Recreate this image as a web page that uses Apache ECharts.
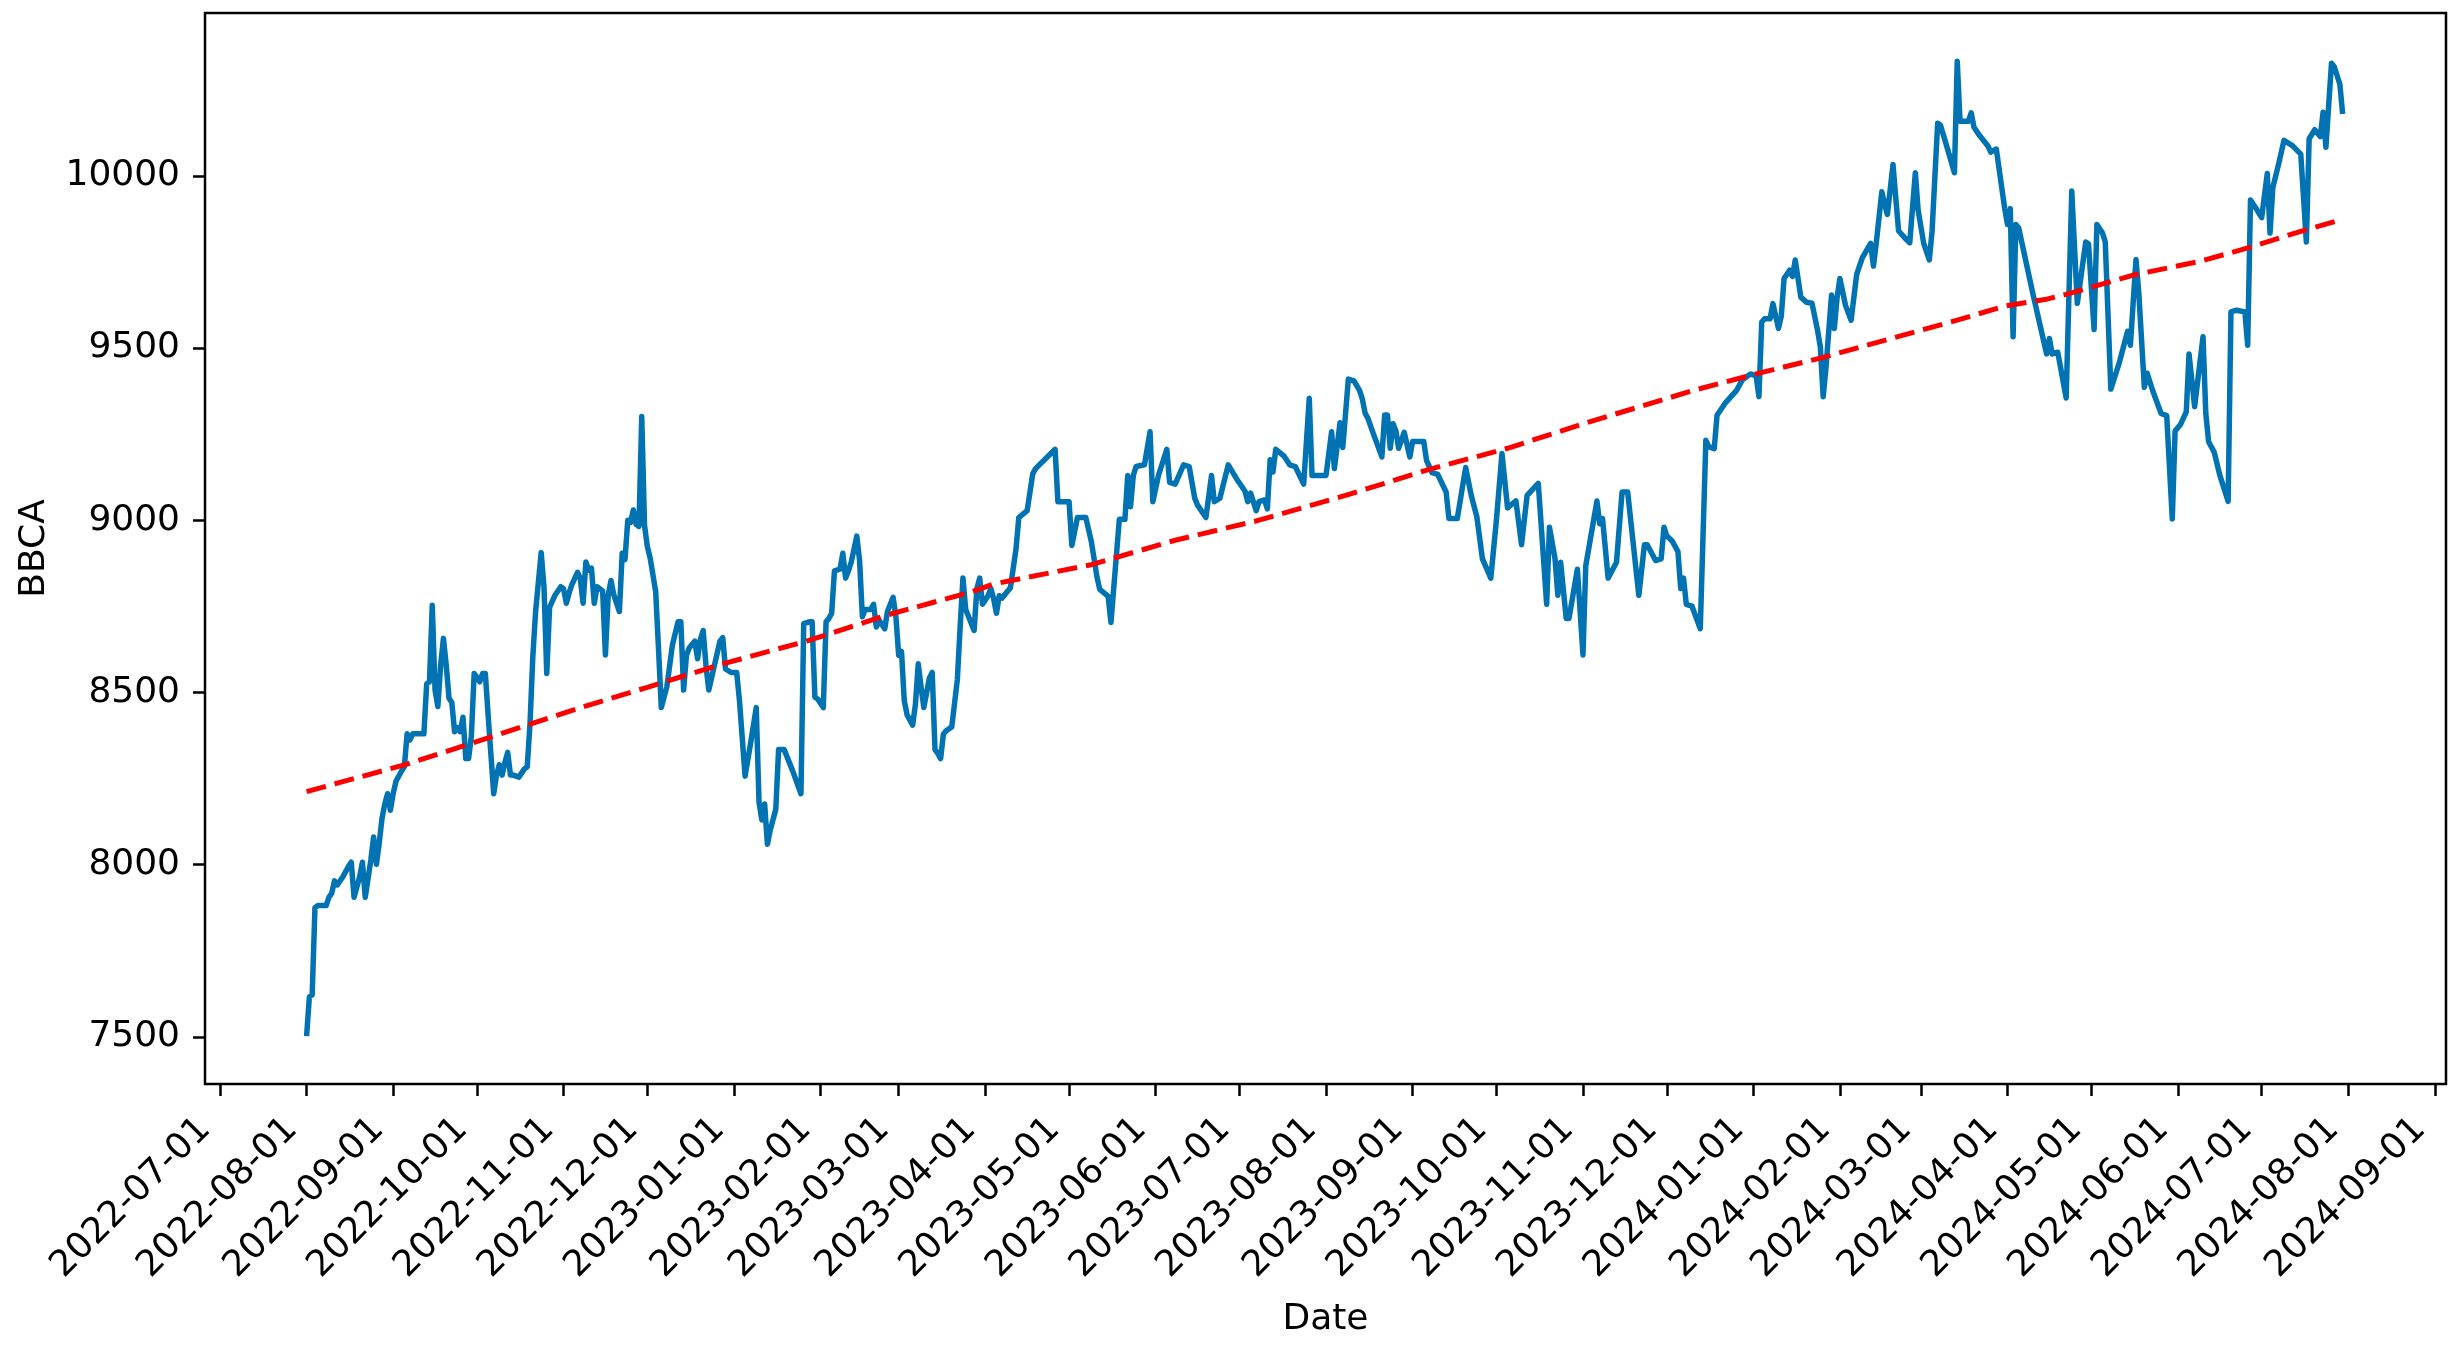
<!DOCTYPE html>
<html>
<head>
<meta charset="utf-8">
<script src="https://cdn.jsdelivr.net/npm/echarts@6/dist/echarts.min.js"></script>
<style>
html,body{margin:0;padding:0;background:#ffffff;}
#chart{width:2459px;height:1351px;}
</style>
</head>
<body>
<div id="chart"></div>
<script>
// ---- data ----
const priceDates = [
'2022-08-01','2022-08-02','2022-08-03','2022-08-04','2022-08-05','2022-08-08','2022-08-09','2022-08-10','2022-08-11','2022-08-12',
'2022-08-14','2022-08-16','2022-08-17','2022-08-18','2022-08-20','2022-08-21','2022-08-22','2022-08-24','2022-08-25','2022-08-26',
'2022-08-27','2022-08-28','2022-08-29','2022-08-30','2022-08-31','2022-09-01','2022-09-02','2022-09-04','2022-09-05','2022-09-06',
'2022-09-07','2022-09-08','2022-09-12','2022-09-13','2022-09-14','2022-09-15','2022-09-16','2022-09-17','2022-09-18','2022-09-19',
'2022-09-20','2022-09-21','2022-09-22','2022-09-23','2022-09-24','2022-09-25','2022-09-26','2022-09-27','2022-09-28','2022-09-29',
'2022-09-30','2022-10-01','2022-10-02','2022-10-03','2022-10-04','2022-10-05','2022-10-07','2022-10-08','2022-10-09','2022-10-10',
'2022-10-11','2022-10-12','2022-10-13','2022-10-14','2022-10-16','2022-10-18','2022-10-19','2022-10-20','2022-10-21','2022-10-22',
'2022-10-24','2022-10-25','2022-10-26','2022-10-27','2022-10-29','2022-10-31','2022-11-01','2022-11-02','2022-11-03','2022-11-04',
'2022-11-06','2022-11-07','2022-11-08','2022-11-09','2022-11-10','2022-11-11','2022-11-12','2022-11-13','2022-11-15','2022-11-16',
'2022-11-17','2022-11-18','2022-11-19','2022-11-21','2022-11-22','2022-11-23','2022-11-24','2022-11-25','2022-11-26','2022-11-27',
'2022-11-28','2022-11-29','2022-11-30','2022-12-01','2022-12-02','2022-12-03','2022-12-04','2022-12-05','2022-12-06','2022-12-08',
'2022-12-10','2022-12-12','2022-12-13','2022-12-14','2022-12-15','2022-12-16','2022-12-18','2022-12-19','2022-12-20','2022-12-21',
'2022-12-22','2022-12-23','2022-12-25','2022-12-27','2022-12-28','2022-12-29','2022-12-31','2023-01-02','2023-01-03','2023-01-05',
'2023-01-07','2023-01-09','2023-01-10','2023-01-11','2023-01-12','2023-01-13','2023-01-14','2023-01-16','2023-01-17','2023-01-19',
'2023-01-22','2023-01-25','2023-01-26','2023-01-28','2023-01-29','2023-01-30','2023-01-31','2023-02-02','2023-02-03','2023-02-04',
'2023-02-05','2023-02-06','2023-02-08','2023-02-09','2023-02-10','2023-02-11','2023-02-12','2023-02-14','2023-02-15','2023-02-16',
'2023-02-17','2023-02-19','2023-02-20','2023-02-21','2023-02-22','2023-02-24','2023-02-25','2023-02-27','2023-02-28','2023-03-01',
'2023-03-02','2023-03-03','2023-03-04','2023-03-06','2023-03-07','2023-03-08','2023-03-09','2023-03-10','2023-03-12','2023-03-13',
'2023-03-14','2023-03-15','2023-03-16','2023-03-17','2023-03-18','2023-03-20','2023-03-22','2023-03-23','2023-03-24','2023-03-25',
'2023-03-28','2023-03-29','2023-03-30','2023-03-31','2023-04-02','2023-04-03','2023-04-04','2023-04-05','2023-04-06','2023-04-07',
'2023-04-10','2023-04-12','2023-04-13','2023-04-16','2023-04-18','2023-04-19','2023-04-26','2023-04-27','2023-05-01','2023-05-02',
'2023-05-04','2023-05-07','2023-05-09','2023-05-11','2023-05-12','2023-05-15','2023-05-16','2023-05-19','2023-05-21','2023-05-22',
'2023-05-23','2023-05-24','2023-05-25','2023-05-28','2023-05-30','2023-05-31','2023-06-02','2023-06-05','2023-06-06','2023-06-08',
'2023-06-11','2023-06-13','2023-06-15','2023-06-16','2023-06-19','2023-06-21','2023-06-22','2023-06-24','2023-06-27','2023-06-30',
'2023-07-03','2023-07-04','2023-07-05','2023-07-07','2023-07-08','2023-07-10','2023-07-11','2023-07-12','2023-07-13','2023-07-14',
'2023-07-17','2023-07-19','2023-07-21','2023-07-24','2023-07-26','2023-07-27','2023-08-01','2023-08-03','2023-08-04','2023-08-06',
'2023-08-07','2023-08-09','2023-08-11','2023-08-13','2023-08-14','2023-08-15','2023-08-16','2023-08-18','2023-08-21','2023-08-22',
'2023-08-23','2023-08-24','2023-08-25','2023-08-26','2023-08-27','2023-08-29','2023-08-31','2023-09-01','2023-09-05','2023-09-06',
'2023-09-08','2023-09-10','2023-09-13','2023-09-14','2023-09-17','2023-09-20','2023-09-22','2023-09-24','2023-09-26','2023-09-29',
'2023-10-01','2023-10-03','2023-10-05','2023-10-08','2023-10-10','2023-10-12','2023-10-16','2023-10-19','2023-10-20','2023-10-22',
'2023-10-23','2023-10-24','2023-10-26','2023-10-27','2023-10-30','2023-11-01','2023-11-02','2023-11-06','2023-11-07','2023-11-08',
'2023-11-10','2023-11-13','2023-11-15','2023-11-17','2023-11-21','2023-11-23','2023-11-24','2023-11-27','2023-11-29','2023-11-30',
'2023-12-01','2023-12-03','2023-12-05','2023-12-06','2023-12-07','2023-12-08','2023-12-10','2023-12-13','2023-12-15','2023-12-16',
'2023-12-18','2023-12-19','2023-12-21','2023-12-22','2023-12-26','2023-12-28','2023-12-31','2024-01-02','2024-01-03','2024-01-04',
'2024-01-05','2024-01-07','2024-01-08','2024-01-10','2024-01-11','2024-01-12','2024-01-14','2024-01-15','2024-01-16','2024-01-18',
'2024-01-20','2024-01-22','2024-01-24','2024-01-25','2024-01-26','2024-01-27','2024-01-29','2024-01-30','2024-01-31','2024-02-01',
'2024-02-03','2024-02-05','2024-02-07','2024-02-09','2024-02-12','2024-02-13','2024-02-14','2024-02-16','2024-02-17','2024-02-18',
'2024-02-20','2024-02-21','2024-02-22','2024-02-24','2024-02-26','2024-02-28','2024-02-29','2024-03-02','2024-03-04','2024-03-05',
'2024-03-07','2024-03-08','2024-03-10','2024-03-13','2024-03-14','2024-03-15','2024-03-18','2024-03-19','2024-03-20','2024-03-22',
'2024-03-25','2024-03-26','2024-03-28','2024-03-31','2024-04-01','2024-04-02','2024-04-03','2024-04-04','2024-04-05','2024-04-10',
'2024-04-15','2024-04-16','2024-04-17','2024-04-19','2024-04-22','2024-04-24','2024-04-26','2024-04-29','2024-04-30','2024-05-02',
'2024-05-03','2024-05-05','2024-05-06','2024-05-08','2024-05-11','2024-05-14','2024-05-15','2024-05-17','2024-05-18','2024-05-20',
'2024-05-21','2024-05-23','2024-05-26','2024-05-28','2024-05-30','2024-05-31','2024-06-02','2024-06-04','2024-06-05','2024-06-07',
'2024-06-10','2024-06-11','2024-06-12','2024-06-14','2024-06-16','2024-06-19','2024-06-20','2024-06-22','2024-06-25','2024-06-26',
'2024-06-27','2024-06-29','2024-07-01','2024-07-03','2024-07-04','2024-07-05','2024-07-07','2024-07-09','2024-07-12','2024-07-15',
'2024-07-17','2024-07-18','2024-07-20','2024-07-22','2024-07-23','2024-07-24','2024-07-26','2024-07-27','2024-07-29','2024-07-30'
];
const priceValues = [
7502,7616,7622,7875,7881,7881,7905,7917,7953,7941,
7965,7995,8007,7905,7965,8007,7905,8013,8080,8001,
8062,8134,8176,8206,8158,8206,8242,8272,8284,8380,
8362,8380,8380,8525,8531,8753,8507,8459,8579,8657,
8579,8483,8471,8386,8398,8386,8428,8308,8308,8374,
8555,8543,8531,8555,8555,8434,8206,8260,8290,8260,
8296,8326,8260,8260,8254,8278,8284,8410,8603,8735,
8906,8807,8555,8747,8783,8807,8801,8759,8789,8813,
8849,8831,8759,8879,8855,8861,8759,8807,8795,8609,
8783,8825,8783,8735,8904,8886,9000,8994,9030,8988,
8982,9301,8985,8924,8891,8842,8792,8629,8456,8517,
8639,8705,8705,8507,8608,8629,8649,8598,8654,8680,
8578,8507,8578,8649,8659,8568,8558,8558,8476,8257,
8354,8456,8181,8130,8176,8059,8100,8161,8334,8334,
8273,8206,8700,8705,8705,8486,8481,8456,8705,8715,
8730,8853,8858,8904,8832,8853,8878,8954,8883,8720,
8741,8741,8756,8690,8710,8685,8736,8776,8720,8608,
8619,8476,8435,8405,8466,8583,8517,8456,8542,8558,
8334,8323,8308,8379,8389,8400,8537,8690,8832,8741,
8680,8802,8832,8756,8781,8802,8772,8730,8781,8774,
8804,8916,9008,9028,9135,9150,9206,9054,9054,8927,
9008,9008,8937,8835,8799,8779,8703,9003,9003,9130,
9039,9130,9156,9161,9257,9054,9130,9206,9110,9105,
9161,9156,9064,9044,9008,9130,9054,9064,9161,9120,
9084,9054,9079,9028,9054,9059,9033,9176,9140,9206,
9186,9161,9156,9105,9354,9130,9130,9257,9150,9283,
9211,9410,9405,9377,9352,9311,9296,9250,9184,9306,
9306,9209,9280,9260,9209,9255,9184,9229,9229,9173,
9138,9133,9082,9005,9005,9153,9072,9010,8888,8832,
9000,9194,9036,9056,8929,9072,9107,8756,8980,8888,
8782,8878,8715,8715,8858,8609,8868,9056,8990,9005,
8832,8878,9082,9082,8782,8929,8929,8883,8888,8980,
8955,8939,8909,8802,8832,8756,8751,8685,9232,9214,
9208,9305,9329,9341,9377,9407,9425,9419,9359,9575,
9585,9585,9629,9557,9593,9702,9726,9708,9756,9648,
9633,9630,9551,9503,9359,9443,9654,9557,9648,9702,
9624,9581,9714,9762,9804,9738,9804,9954,9918,9888,
10033,9936,9840,9822,9806,10009,9900,9804,9756,9840,
10153,10147,10093,10009,10333,10159,10159,10183,10141,10117,
10087,10069,10078,9905,9859,9905,9533,9859,9849,9661,
9483,9528,9483,9488,9355,9956,9630,9808,9803,9554,
9859,9834,9808,9381,9457,9549,9508,9757,9661,9386,
9427,9376,9310,9304,9004,9259,9279,9315,9483,9330,
9533,9310,9228,9198,9131,9055,9605,9610,9605,9508,
9930,9905,9879,10007,9834,9966,10032,10103,10088,10063,
9808,10108,10134,10114,10185,10083,10327,10317,10266,10180
];
const trendDates = [
'2022-08-01','2022-09-06','2022-10-05','2022-11-08','2022-12-01','2022-12-28','2023-01-27','2023-02-25','2023-03-27','2023-04-04',
'2023-05-09','2023-06-08','2023-07-07','2023-08-08','2023-09-07','2023-10-05','2023-11-03','2023-12-11','2024-01-02','2024-01-26',
'2024-02-19','2024-03-14','2024-03-31','2024-04-15','2024-04-22','2024-05-16','2024-06-09','2024-06-27','2024-07-15','2024-07-30'
];
const trendValues = [
8212,8292,8368,8458,8515,8583,8649,8725,8792,8815,
8871,8942,8998,9072,9148,9209,9285,9378,9425,9473,
9527,9581,9622,9642,9656,9712,9752,9793,9839,9874
];
const yTickValues = [7500, 8000, 8500, 9000, 9500, 10000];
const xTickLabels = [
'2022-07-01','2022-08-01','2022-09-01','2022-10-01','2022-11-01','2022-12-01','2023-01-01','2023-02-01','2023-03-01',
'2023-04-01','2023-05-01','2023-06-01','2023-07-01','2023-08-01','2023-09-01','2023-10-01','2023-11-01','2023-12-01',
'2024-01-01','2024-02-01','2024-03-01','2024-04-01','2024-05-01','2024-06-01','2024-07-01','2024-08-01','2024-09-01'
];
const xAxisName = 'Date';
const yAxisName = 'BBCA';

// ---- helpers ----
function toTs(s) {
  const p = s.split('-').map(Number);
  return new Date(p[0], p[1] - 1, p[2]).getTime();
}
function pad2(n) { return (n < 10 ? '0' : '') + n; }
function fmtDate(v) {
  const d = new Date(v);
  return d.getFullYear() + '-' + pad2(d.getMonth() + 1) + '-' + pad2(d.getDate());
}
const DAY = 86400000;
const xBase = toTs('2022-07-01');
const xMin = xBase - 5.37 * DAY;
const xMax = xBase + 797.0 * DAY;
const xTickTs = xTickLabels.map(toTs);

const priceData = priceDates.map((d, i) => [toTs(d), priceValues[i]]);
const trendData = trendDates.map((d, i) => [toTs(d), trendValues[i]]);

const FONT = 'DejaVu Sans';
const chart = echarts.init(document.getElementById('chart'), null, { renderer: 'canvas' });
chart.setOption({
  animation: false,
  backgroundColor: '#ffffff',
  grid: {
    left: 205, right: 13, top: 13, bottom: 267,
    show: true, borderColor: '#000000', borderWidth: 2.5,
    backgroundColor: 'transparent',
    containLabel: false,
    outerBoundsMode: 'none'
  },
  xAxis: {
    type: 'value',
    min: xMin,
    max: xMax,
    name: xAxisName,
    nameLocation: 'middle',
    nameGap: 218,
    nameTextStyle: { fontFamily: FONT, fontSize: 36, color: '#000000' },
    axisLine: { show: false },
    splitLine: { show: false },
    axisTick: {
      show: true, inside: false, length: 12,
      customValues: xTickTs,
      lineStyle: { color: '#000000', width: 2.5 }
    },
    axisLabel: {
      show: true,
      customValues: xTickTs,
      rotate: 45,
      margin: 25,
      padding: [0, 21, 0, 0],
      fontFamily: FONT, fontSize: 36, color: '#000000',
      formatter: function (v) { return fmtDate(v); }
    }
  },
  yAxis: {
    type: 'value',
    min: 7363,
    max: 10473,
    name: yAxisName,
    nameLocation: 'middle',
    nameGap: 152,
    nameTextStyle: { fontFamily: FONT, fontSize: 36, color: '#000000' },
    axisLine: { show: false },
    splitLine: { show: false },
    axisTick: {
      show: true, inside: false, length: 12,
      customValues: yTickValues,
      lineStyle: { color: '#000000', width: 2.5 }
    },
    axisLabel: {
      show: true,
      customValues: yTickValues,
      margin: 25,
      fontFamily: FONT, fontSize: 36, color: '#000000',
      formatter: function (v) { return String(v); }
    }
  },
  series: [
    {
      name: 'BBCA',
      type: 'line',
      data: priceData,
      showSymbol: false,
      symbol: 'none',
      sampling: null,
      lineStyle: { color: '#0173b2', width: 5.5, join: 'round', cap: 'butt' },
      z: 2
    },
    {
      name: 'Trend',
      type: 'line',
      data: trendData,
      showSymbol: false,
      symbol: 'none',
      smooth: false,
      lineStyle: { color: '#ff0000', width: 5, type: [20, 9], cap: 'butt' },
      z: 3
    }
  ]
});
</script>
</body>
</html>
